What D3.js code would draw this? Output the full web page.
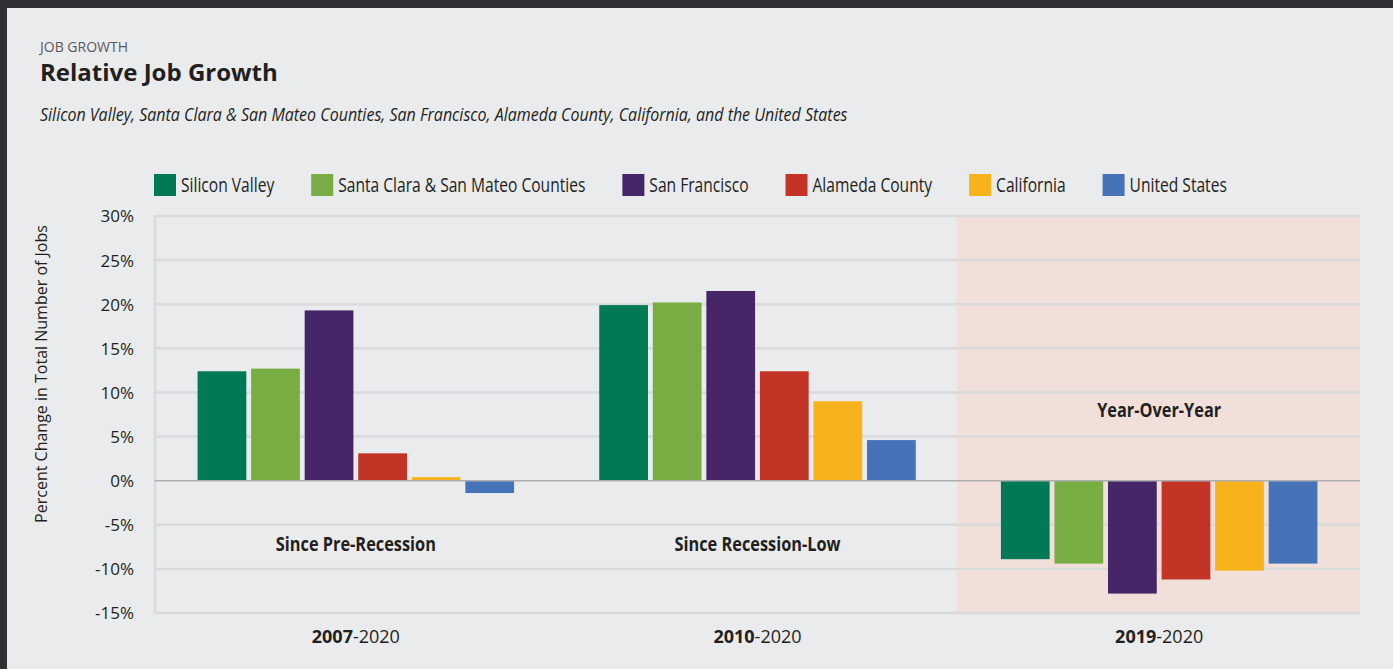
<!DOCTYPE html>
<html>
<head>
<meta charset="utf-8">
<script src="https://cdn.jsdelivr.net/npm/d3@7"></script>
<style>
  html, body { margin: 0; padding: 0; background: #303135; }
  svg { display: block; }
  text { font-family: "Open Sans", "Liberation Sans", sans-serif; fill: #231f20; }
</style>
</head>
<body>
<svg id="chart" width="1393" height="669"></svg>
<script>
// ---- data ----
const groups = ["2007", "2010", "2019"];
const groupEnd = "-2020";
const groupNotes = ["Since Pre-Recession", "Since Recession-Low", "Year-Over-Year"];
const series = ["Silicon Valley", "Santa Clara & San Mateo Counties", "San Francisco", "Alameda County", "California", "United States"];
const colors = ["#007a56", "#78ad43", "#472668", "#c33427", "#f8b21b", "#4672b8"];
const siliconValley = [12.4, 19.9, -8.9];
const santaClaraSanMateo = [12.7, 20.2, -9.4];
const sanFrancisco = [19.3, 21.5, -12.8];
const alameda = [3.1, 12.4, -11.2];
const california = [0.4, 9.0, -10.2];
const unitedStates = [-1.4, 4.6, -9.4];
const yTicks = [30, 25, 20, 15, 10, 5, 0, -5, -10, -15];

const values = [siliconValley, santaClaraSanMateo, sanFrancisco, alameda, california, unitedStates];
const table = groups.map((g, gi) => ({ group: g, items: series.map((s, si) => ({ series: s, color: colors[si], value: values[si][gi] })) }));

const svg = d3.select("#chart");
svg.append("rect").attr("x", 7).attr("y", 8).attr("width", 1386).attr("height", 661).attr("fill", "#eaebed");

// condensed text helper: place text at (x,y) squeezed horizontally by k
function ctext(parent, x, y, k, str) {
  return parent.append("text").attr("transform", `translate(${x},${y}) scale(${k},1)`).text(str);
}

ctext(svg, 40, 52, 1, "JOB GROWTH").style("font-size", "14px").style("fill", "#58595b");
ctext(svg, 40, 81, 1, "Relative Job Growth").style("font-size", "24px").style("font-weight", "bold");
ctext(svg, 40, 121, 0.89, "Silicon Valley, Santa Clara & San Mateo Counties, San Francisco, Alameda County, California, and the United States")
  .style("font-size", "18px").style("font-style", "italic");

const pLeft = 155, pRight = 1360, pTop = 216, pBottom = 613;
const y = d3.scaleLinear().domain([-15, 30]).range([pBottom, pTop]);
const x0 = d3.scaleBand().domain(groups).range([pLeft, pRight]).paddingInner(0.2).paddingOuter(0.1);
const x1 = d3.scaleBand().domain(series).range([0, x0.bandwidth()]).paddingInner(0.09).paddingOuter(0.045);

const step = x0.step();
const hx = x0(groups[2]) - step * 0.105;
svg.append("rect")
  .attr("x", hx).attr("y", y(30))
  .attr("width", pRight - hx).attr("height", y(-15) - y(30))
  .attr("fill", "#f1dfda");

const grid = svg.append("g");
grid.selectAll("line").data(yTicks.filter(d => d !== 0)).join("line")
  .attr("x1", pLeft).attr("x2", pRight).attr("y1", d => y(d)).attr("y2", d => y(d))
  .attr("stroke", "#d9dadc").attr("stroke-width", 2.5);
svg.append("line").attr("x1", pLeft).attr("x2", pLeft).attr("y1", y(30) - 1).attr("y2", y(-15) + 1)
  .attr("stroke", "#d9dadc").attr("stroke-width", 2.5);

const yAxis = d3.axisLeft(y).tickValues(yTicks).tickFormat(d => d + "%").tickSize(0).tickPadding(0);
const ya = svg.append("g").attr("transform", `translate(${134},0)`).call(yAxis);
ya.select(".domain").remove();
ya.attr("font-family", null).attr("font-size", null);
ya.selectAll("text").style("font-size", "17px").attr("fill", "#231f20").attr("dy", "0.35em");

svg.append("text").attr("transform", `translate(47,374) rotate(-90)`).attr("text-anchor", "middle")
  .style("font-size", "16px").text("Percent Change in Total Number of Jobs");

const gGroups = svg.append("g").selectAll("g").data(table).join("g")
  .attr("transform", d => `translate(${x0(d.group)},0)`);
gGroups.selectAll("rect").data(d => d.items).join("rect")
  .attr("x", d => x1(d.series)).attr("width", x1.bandwidth())
  .attr("y", d => y(Math.max(0, d.value))).attr("height", d => Math.abs(y(d.value) - y(0)))
  .attr("fill", d => d.color);

svg.append("line").attr("x1", pLeft).attr("x2", pRight).attr("y1", y(0)).attr("y2", y(0))
  .attr("stroke", "#aeaeb0").attr("stroke-width", 1.5);

const noteY = [-7.3, -7.3, 7.9];
groups.forEach((g, i) => {
  ctext(svg, x0(g) + x0.bandwidth() / 2, y(noteY[i]) + 6, 0.86, groupNotes[i])
    .attr("text-anchor", "middle").style("font-size", "19px").style("font-weight", "bold");
});

const xl = svg.append("g").selectAll("text").data(groups).join("text")
  .attr("x", d => x0(d) + x0.bandwidth() / 2).attr("y", 643)
  .attr("text-anchor", "middle").style("font-size", "18px");
xl.append("tspan").style("font-weight", "bold").text(d => d);
xl.append("tspan").text(groupEnd);

const legend = svg.append("g");
const lk = 0.78;
let lx = 154;
series.forEach((s, i) => {
  legend.append("rect").attr("x", lx).attr("y", 174).attr("width", 22).attr("height", 22).attr("fill", colors[i]);
  const t = ctext(legend, lx + 27, 192, lk, s).style("font-size", "20px");
  lx += 27 + t.node().getComputedTextLength() * lk + 37;
});
</script>
</body>
</html>
